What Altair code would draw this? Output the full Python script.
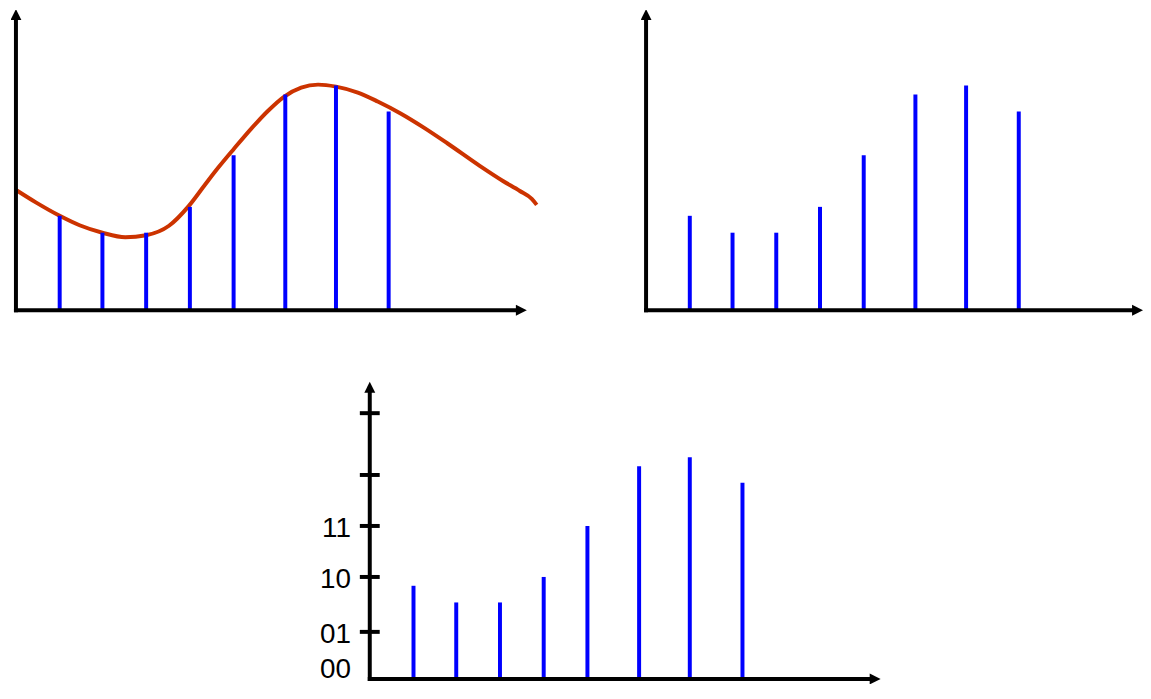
import altair as alt
import pandas as pd

# ---- data (t: sample position, v: value above the baseline) ----
SAMPLE_T = [44, 87, 131, 175, 219, 271, 322, 375]
SAMPLE_V = [95, 78, 78, 104, 156, 217, 226, 200]

CURVE_T = [0, 20, 44, 64, 87, 110, 131, 154, 174, 190, 204, 219, 237, 254, 270, 287, 304,
           322, 344, 364, 387, 410, 434, 467, 490, 507, 519, 524]
CURVE_V = [121, 108.5, 95, 85.5, 78, 73.5, 75.5, 85, 105, 126, 144, 162, 183, 201, 215, 224, 227,
           225, 219, 210, 198, 184, 168, 145, 130, 120, 112, 106]

TICK_V = [48, 104, 156, 208, 271]
LABEL_V = [0, 48, 104, 156]
LABEL_TEXT = ["00", "01", "10", "11"]

# ---- drawing constants ----
Y_TIP = 303      # y-axis arrow tip (data units)
ARROW = 11       # arrow head size in px
UP = "M -1 1 L 1 1 L 0 -1 Z"
RIGHT = "M -1 -1 L 1 0 L -1 1 Z"
BLUE = "#0000FF"
RED = "#CC3300"
FONT = "Liberation Sans"
FS = 28

samples = pd.DataFrame({"t": SAMPLE_T, "v": SAMPLE_V})
curve = pd.DataFrame({"t": CURVE_T, "v": CURVE_V})
ticks = pd.DataFrame({"v": TICK_V})
labels = pd.DataFrame({"v": LABEL_V, "label": LABEL_TEXT})
one = pd.DataFrame({"k": [0]})


def panel(xdom, ydom, width, height, x_tip, with_curve=False, with_labels=False):
    xs = alt.Scale(domain=xdom, nice=False, zero=False)
    ys = alt.Scale(domain=ydom, nice=False, zero=False)

    layers = []
    if with_curve:
        layers.append(
            alt.Chart(curve).mark_line(color=RED, strokeWidth=4, interpolate="monotone").encode(
                x=alt.X("t:Q", scale=xs, axis=None),
                y=alt.Y("v:Q", scale=ys, axis=None),
            )
        )
    # stems
    layers.append(
        alt.Chart(samples).mark_rule(color=BLUE, strokeWidth=4).encode(
            x=alt.X("t:Q", scale=xs, axis=None),
            y=alt.Y("v:Q", scale=ys, axis=None),
            y2=alt.datum(0),
        )
    )
    # y axis line
    layers.append(
        alt.Chart(one).mark_rule(color="black", strokeWidth=4, strokeCap="square").encode(
            x=alt.XDatum(0, scale=xs, axis=None),
            y=alt.YDatum(0, scale=ys, axis=None),
            y2=alt.datum(Y_TIP - 8),
        )
    )
    # x axis line
    layers.append(
        alt.Chart(one).mark_rule(color="black", strokeWidth=4, strokeCap="square").encode(
            x=alt.XDatum(0, scale=xs, axis=None),
            x2=alt.datum(x_tip - 8),
            y=alt.YDatum(0, scale=ys, axis=None),
        )
    )
    # arrow heads
    layers.append(
        alt.Chart(one).mark_point(shape=UP, size=ARROW * ARROW, filled=True, color="black",
                                  opacity=1, strokeWidth=0, clip=True).encode(
            x=alt.XDatum(0, scale=xs, axis=None),
            y=alt.YDatum(Y_TIP - ARROW / 2, scale=ys, axis=None),
        )
    )
    layers.append(
        alt.Chart(one).mark_point(shape=RIGHT, size=ARROW * ARROW, filled=True, color="black",
                                  opacity=1, strokeWidth=0, clip=True).encode(
            x=alt.XDatum(x_tip - ARROW / 2, scale=xs, axis=None),
            y=alt.YDatum(0, scale=ys, axis=None),
        )
    )
    if with_labels:
        layers.append(
            alt.Chart(ticks).mark_rule(color="black", strokeWidth=4).encode(
                x=alt.XDatum(-10, scale=xs, axis=None),
                x2=alt.datum(10),
                y=alt.Y("v:Q", scale=ys, axis=None),
            )
        )
        layers.append(
            alt.Chart(labels).transform_filter(alt.datum.v > 0)
            .mark_text(align="right", baseline="alphabetic", font=FONT, fontSize=FS,
                       color="black", dy=11, clip=True).encode(
                x=alt.XDatum(-19, scale=xs, axis=None),
                y=alt.Y("v:Q", scale=ys, axis=None),
                text="label:N",
            )
        )
        layers.append(
            alt.Chart(labels).transform_filter(alt.datum.v == 0)
            .mark_text(align="right", baseline="alphabetic", font=FONT, fontSize=FS,
                       color="black", dy=-1, clip=True).encode(
                x=alt.XDatum(-19, scale=xs, axis=None),
                y=alt.Y("v:Q", scale=ys, axis=None),
                text="label:N",
            )
        )
    return alt.layer(*layers).properties(width=width, height=height)


left = panel([-5, 528], [-6, 302], 533, 308, 514, with_curve=True)
right = panel([-5, 500], [-6, 302], 505, 308, 500)
bottom = panel([-361, 518], [-5.07, 305.03], 879, 306, 514, with_labels=True)

top = alt.hconcat(left, right, spacing=97)
chart = (
    alt.vconcat(top, bottom, spacing=64)
    .properties(padding={"left": 0, "top": 0, "right": 0, "bottom": 0}, background="white")
    .configure_view(strokeWidth=0)
)

chart.save("out.html", embed_options={"renderer": "svg", "actions": False})
